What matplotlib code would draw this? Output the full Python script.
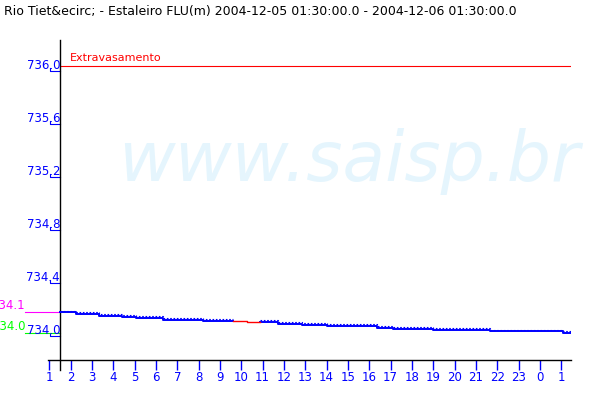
import matplotlib
matplotlib.use('Agg')
import matplotlib.pyplot as plt
from matplotlib.transforms import offset_copy

title = "Rio Tiet&ecirc; - Estaleiro FLU(m) 2004-12-05 01:30:00.0 - 2004-12-06 01:30:00.0"
watermark = "www.saisp.br"

# hours since 2004-12-05 00:00 where the level changes, and the level (m)
hours = [1.5, 2.24, 3.33, 4.39, 5.05, 6.34, 8.22, 9.62, 10.25, 10.88,
         11.70, 12.83, 14.0, 16.35, 17.12, 19.0, 21.66, 25.09, 25.45]
levels = [734.143, 734.131, 734.115, 734.106, 734.098, 734.083, 734.078,
          734.073, 734.066, 734.070, 734.053, 734.048, 734.040, 734.025,
          734.015, 734.010, 733.998, 733.987]
gap = (7, 9)   # steps with missing data (drawn red)

hour_ticks = list(range(1, 26))
hour_labels = [str(h % 24) for h in hour_ticks]
level_ticks = [734.0, 734.4, 734.8, 735.2, 735.6, 736.0]
alert_level = 736.0
alert_name = "Extravasamento"

BLUE = '#0000FF'
fig = plt.figure(figsize=(6, 4), dpi=100)
ax = fig.add_axes([48/600, 40/400, 523/600, 320/400])
ax.set_xlim(0.9375, 25.453)
ax.set_ylim(733.781, 736.196)
for s in ax.spines.values():
    s.set_visible(False)

fig.text(4/600, 1 - 11/400, title, fontsize=9, va='center', ha='left')
ax.text(118/600, 1 - 181/400, watermark, transform=fig.transFigure, fontsize=50,
        style='italic', color='#E5F5FD', va='baseline', ha='left', zorder=0)

# axis lines
ax.plot([hours[0], hours[0]], [733.706, 736.196], color='black', lw=1.0, clip_on=False, zorder=3)
ax.axhline(733.781, color='black', lw=1.0, clip_on=False, zorder=3)

# x ticks
ax.set_xticks(hour_ticks)
ax.set_xticklabels(hour_labels)
ax.tick_params(axis='x', direction='out', length=7.2, width=1, color=BLUE,
               labelcolor=BLUE, labelsize=8.5, pad=0.5)
ax.set_yticks([])

# y ticks: label with small underline mark
under = offset_copy(ax.transData, fig=fig, x=0, y=-5, units='dots')
for v in level_ticks:
    ax.text(hours[0], v, f"{v:.1f}", color=BLUE, fontsize=8.5, ha='right', va='center')
    ax.plot([1.031, 1.031, hours[0]], [v + 3 / 132.5, v, v], color=BLUE, lw=0.8,
            transform=under, clip_on=False)

# alert level
ax.axhline(alert_level, xmin=(hours[0] - 0.9375) / (25.453 - 0.9375), color='red', lw=0.8)
ax.annotate(alert_name, xy=(1.97, alert_level), xytext=(0, 2), textcoords='offset points',
            color='red', fontsize=8, va='bottom', ha='left')


def piece(i0, i1):
    return hours[i0:i1 + 1], levels[i0:i1] + [levels[i1 - 1]]


up = offset_copy(ax.transData, fig=fig, x=0, y=1.5, units='dots')
for i0, i1 in [(0, gap[0]), (gap[1], len(levels))]:
    t, v = piece(i0, i1)
    ax.plot(t, v, drawstyle='steps-post', color=BLUE, lw=1.4, zorder=4)
    ax.plot(t, v, drawstyle='steps-post', color=BLUE, lw=0.8, dashes=(1.5, 1.5),
            transform=up, zorder=4)
t, v = piece(gap[0], gap[1])
ax.plot(t, v, drawstyle='steps-post', color='red', lw=1.0, zorder=4)

# max / min markers (labels run off the left edge, as in the original)
vmax, vmin = max(levels), min(levels)
ax.plot([-0.14, hours[0]], [vmax, vmax], color='#FF00FF', lw=0.8, clip_on=False)
ax.plot([-0.14, hours[0]], [vmin, vmin], color='#00FF00', lw=0.8, clip_on=False)
ax.text(-0.14, vmax, f"{vmax:.1f}", color='#FF00FF', fontsize=8.5, ha='right', va='bottom')
ax.text(-0.14, vmin, f"{vmin:.1f}", color='#00FF00', fontsize=8.5, ha='right', va='bottom')

fig.savefig('out.png', dpi=100)
